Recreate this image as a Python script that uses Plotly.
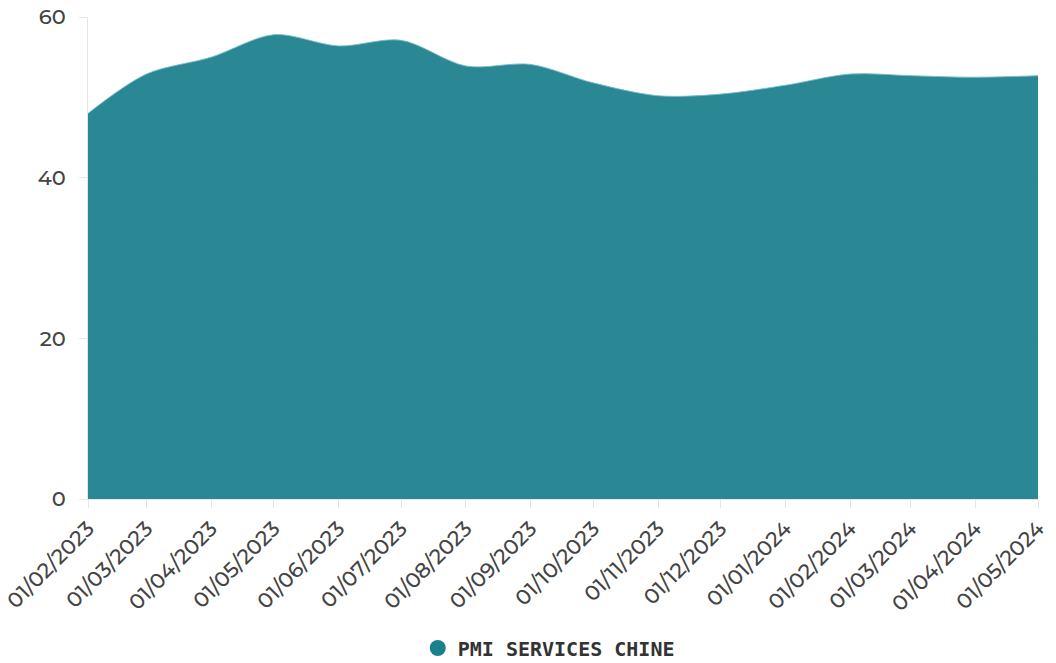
import plotly.graph_objects as go

# Monthly PMI services (China)
dates = ["2023-02-01", "2023-03-01", "2023-04-01", "2023-05-01", "2023-06-01",
         "2023-07-01", "2023-08-01", "2023-09-01", "2023-10-01", "2023-11-01",
         "2023-12-01", "2024-01-01", "2024-02-01", "2024-03-01", "2024-04-01",
         "2024-05-01"]
pmi_services = [48.0, 52.9, 55.0, 57.8, 56.4, 57.1, 53.9, 54.1, 51.8, 50.2,
                50.4, 51.5, 52.9, 52.7, 52.5, 52.7]
tick_labels = ["01/02/2023", "01/03/2023", "01/04/2023", "01/05/2023",
               "01/06/2023", "01/07/2023", "01/08/2023", "01/09/2023",
               "01/10/2023", "01/11/2023", "01/12/2023", "01/01/2024",
               "01/02/2024", "01/03/2024", "01/04/2024", "01/05/2024"]
series_name = "PMI SERVICES CHINE"

fig = go.Figure()
fig.add_trace(go.Scatter(
    x=dates, y=pmi_services, mode="lines", fill="tozeroy",
    line=dict(shape="spline", smoothing=0.9, color="rgba(120,190,200,0.9)", width=1),
    fillcolor="rgba(26,127,140,0.93)", showlegend=False, hoverinfo="x+y",
))
# legend entry with a round swatch
fig.add_trace(go.Scatter(
    x=[None], y=[None], mode="markers", name=series_name,
    marker=dict(symbol="circle", size=17, color="#1A808D"),
))

fig.update_layout(
    width=1056, height=663,
    margin=dict(l=88, r=18, t=17, b=164),
    paper_bgcolor="white", plot_bgcolor="white",
    font=dict(family="Montserrat, Lato, Open Sans, sans-serif", color="#444"),
    showlegend=True,
    legend=dict(orientation="h", x=0.485, xanchor="center",
                yref="container", y=0.0226, yanchor="middle",
                font=dict(family="DejaVu Sans Mono", size=20, color="#333", weight="bold"),
                itemwidth=30, tracegroupgap=0),
    xaxis=dict(
        type="date", range=[dates[0], dates[-1]], automargin=False,
        tickvals=dates, ticktext=tick_labels, tickangle=-45,
        tickfont=dict(size=21, color="#444", weight=500),
        showgrid=False, ticks="outside", ticklen=8, tickcolor="#e6e6e6",
        showline=True, linecolor="#e6e6e6", zeroline=False,
    ),
    yaxis=dict(
        range=[0, 60], tickvals=[0, 20, 40, 60], automargin=False,
        tickfont=dict(size=21, color="#444", weight=500),
        showgrid=True, gridcolor="#ececec", gridwidth=1,
        ticks="outside", ticklen=8, tickcolor="#e6e6e6",
        showline=True, linecolor="#e6e6e6", zeroline=False, ticklabelstandoff=9,
    ),
)

fig.write_html("out.html")
